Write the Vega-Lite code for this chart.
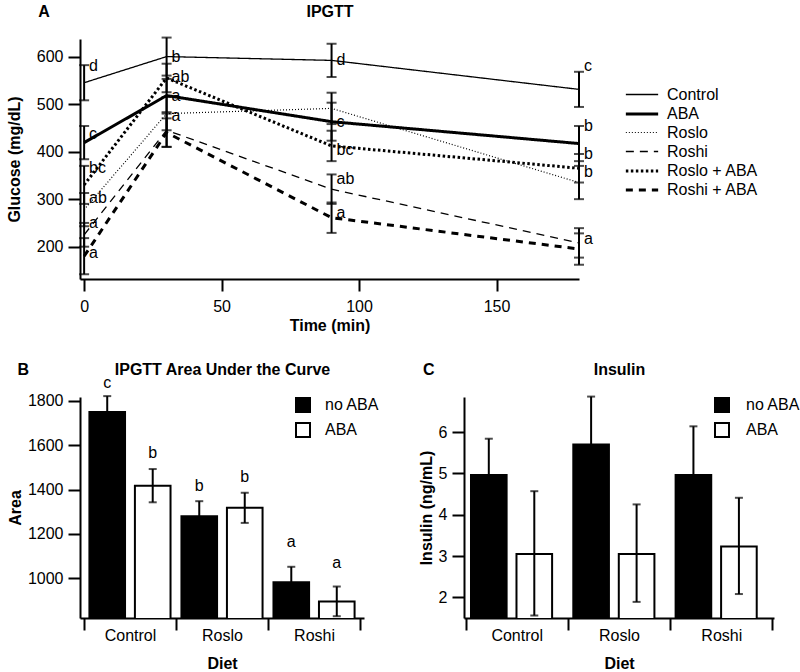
{
  "$schema": "https://vega.github.io/schema/vega-lite/v6.json",
  "background": "white",
  "padding": {"left": 6, "top": 3, "right": 0, "bottom": 0},
  "config": {
    "font": "Liberation Sans",
    "view": {"stroke": null},
    "axis": {"domainColor": "black", "domainWidth": 2, "tickColor": "black", "tickWidth": 2, "tickSize": 12, "labelColor": "black", "labelFontSize": 16, "labelFont": "Liberation Sans", "titleFont": "Liberation Sans", "titleFontSize": 16, "titleFontWeight": "bold", "titleColor": "black", "grid": false, "labelPadding": 5},
    "legend": {"labelFontSize": 16, "labelColor": "black", "labelFont": "Liberation Sans", "padding": 0},
    "title": {"font": "Liberation Sans", "fontSize": 16, "fontWeight": "bold", "color": "black"}
  },
  "datasets": {
    "glucose": [
      {"group": "Control", "time": 0, "glucose": 545, "se": 37},
      {"group": "Control", "time": 30, "glucose": 600, "se": 40},
      {"group": "Control", "time": 90, "glucose": 592, "se": 35},
      {"group": "Control", "time": 180, "glucose": 531, "se": 37},
      {"group": "ABA", "time": 0, "glucose": 419, "se": 35},
      {"group": "ABA", "time": 30, "glucose": 518, "se": 35},
      {"group": "ABA", "time": 90, "glucose": 463, "se": 40},
      {"group": "ABA", "time": 180, "glucose": 417, "se": 37},
      {"group": "Roslo", "time": 0, "glucose": 278, "se": 35},
      {"group": "Roslo", "time": 30, "glucose": 480, "se": 35},
      {"group": "Roslo", "time": 90, "glucose": 491, "se": 33},
      {"group": "Roslo", "time": 180, "glucose": 335, "se": 35},
      {"group": "Roshi", "time": 0, "glucose": 225, "se": 25},
      {"group": "Roshi", "time": 30, "glucose": 445, "se": 35},
      {"group": "Roshi", "time": 90, "glucose": 321, "se": 31},
      {"group": "Roshi", "time": 180, "glucose": 208, "se": 31},
      {"group": "Roslo + ABA", "time": 0, "glucose": 330, "se": 40},
      {"group": "Roslo + ABA", "time": 30, "glucose": 555, "se": 30},
      {"group": "Roslo + ABA", "time": 90, "glucose": 412, "se": 32},
      {"group": "Roslo + ABA", "time": 180, "glucose": 365, "se": 30},
      {"group": "Roshi + ABA", "time": 0, "glucose": 180, "se": 38},
      {"group": "Roshi + ABA", "time": 30, "glucose": 440, "se": 30},
      {"group": "Roshi + ABA", "time": 90, "glucose": 261, "se": 32},
      {"group": "Roshi + ABA", "time": 180, "glucose": 195, "se": 33}
    ],
    "glucoseLabels": [
      {"time": 0, "at": 580, "letter": "d"},
      {"time": 0, "at": 437, "letter": "c"},
      {"time": 0, "at": 366, "letter": "bc"},
      {"time": 0, "at": 303, "letter": "ab"},
      {"time": 0, "at": 250, "letter": "a"},
      {"time": 0, "at": 187, "letter": "a"},
      {"time": 30, "at": 600, "letter": "b"},
      {"time": 30, "at": 556, "letter": "ab"},
      {"time": 30, "at": 517, "letter": "a"},
      {"time": 30, "at": 474, "letter": "a"},
      {"time": 90, "at": 592, "letter": "d"},
      {"time": 90, "at": 463, "letter": "c"},
      {"time": 90, "at": 404, "letter": "bc"},
      {"time": 90, "at": 342, "letter": "ab"},
      {"time": 90, "at": 270, "letter": "a"},
      {"time": 180, "at": 580, "letter": "c"},
      {"time": 180, "at": 454, "letter": "b"},
      {"time": 180, "at": 395, "letter": "b"},
      {"time": 180, "at": 357, "letter": "b"},
      {"time": 180, "at": 216, "letter": "a"}
    ],
    "auc": [
      {"diet": "Control", "aba": "no ABA", "area": 1750, "lo": 1678, "hi": 1822, "letter": "c", "letterAt": 1881},
      {"diet": "Control", "aba": "ABA", "area": 1418, "lo": 1343, "hi": 1493, "letter": "b", "letterAt": 1565},
      {"diet": "Roslo", "aba": "no ABA", "area": 1280, "lo": 1212, "hi": 1348, "letter": "b", "letterAt": 1416},
      {"diet": "Roslo", "aba": "ABA", "area": 1318, "lo": 1250, "hi": 1386, "letter": "b", "letterAt": 1457},
      {"diet": "Roshi", "aba": "no ABA", "area": 982, "lo": 912, "hi": 1052, "letter": "a", "letterAt": 1165},
      {"diet": "Roshi", "aba": "ABA", "area": 896, "lo": 829, "hi": 963, "letter": "a", "letterAt": 1070}
    ],
    "insulin": [
      {"diet": "Control", "aba": "no ABA", "insulin": 4.96, "lo": 4.08, "hi": 5.84},
      {"diet": "Control", "aba": "ABA", "insulin": 3.05, "lo": 1.56, "hi": 4.57},
      {"diet": "Roslo", "aba": "no ABA", "insulin": 5.7, "lo": 4.54, "hi": 6.86},
      {"diet": "Roslo", "aba": "ABA", "insulin": 3.05, "lo": 1.89, "hi": 4.25},
      {"diet": "Roshi", "aba": "no ABA", "insulin": 4.96, "lo": 3.78, "hi": 6.14},
      {"diet": "Roshi", "aba": "ABA", "insulin": 3.23, "lo": 2.08, "hi": 4.41}
    ]
  },
  "spacing": 28,
  "resolve": {"scale": {"fill": "independent"}, "legend": {"fill": "independent", "strokeDash": "independent", "strokeWidth": "independent"}},
  "vconcat": [
    {
      "width": 499,
      "height": 240,
      "title": {"text": "A", "anchor": "start", "frame": "bounds", "offset": -17, "dx": 32},
      "resolve": {"axis": {"x": "independent"}},
      "layer": [
        {
          "data": {"name": "glucose"},
          "mark": {"type": "point", "opacity": 0},
          "encoding": {
            "x": {"field": "time", "type": "quantitative", "scale": {"domain": [-1.5, 180], "nice": false, "zero": false}, "axis": {"orient": "top", "title": "IPGTT", "domain": false, "ticks": false, "labels": false, "titlePadding": 20}},
            "y": {"field": "glucose", "type": "quantitative", "title": "Glucose (mg/dL)"}
          }
        },
        {
          "data": {"name": "glucose"},
          "mark": {"type": "line", "color": "black"},
          "encoding": {
            "x": {"field": "time", "type": "quantitative", "scale": {"domain": [-1.5, 180], "nice": false, "zero": false}, "axis": {"values": [0, 50, 100, 150], "title": "Time (min)", "labelPadding": 7, "titlePadding": 3}},
            "y": {"field": "glucose", "type": "quantitative", "scale": {"domain": [132, 637], "nice": false, "zero": false}, "title": "Glucose (mg/dL)", "axis": {"values": [200, 300, 400, 500, 600], "titlePadding": 14}},
            "strokeDash": {"field": "group", "type": "nominal", "scale": {"type": "ordinal", "domain": ["Control", "ABA", "Roslo", "Roshi", "Roslo + ABA", "Roshi + ABA"], "range": [[1, 0], [1, 0], [1, 2], [8, 6], [2.5, 2.5], [7, 6]]}, "legend": {"title": null, "orient": "none", "legendX": 551, "legendY": 45, "symbolType": "M-1.7,0H1.7", "symbolSize": 361, "symbolStrokeColor": "black", "labelOffset": 14, "rowPadding": 0}},
            "strokeWidth": {"field": "group", "type": "nominal", "scale": {"type": "ordinal", "domain": ["Control", "ABA", "Roslo", "Roshi", "Roslo + ABA", "Roshi + ABA"], "range": [1.3, 3, 1.2, 1.3, 3, 3]}, "legend": {"title": null, "orient": "none", "legendX": 551, "legendY": 45, "symbolType": "M-1.7,0H1.7", "symbolSize": 361, "symbolStrokeColor": "black", "labelOffset": 14, "rowPadding": 0}}
          }
        },
        {
          "data": {"name": "glucose"},
          "mark": {"type": "errorbar", "color": "black", "thickness": 2, "ticks": {"size": 10, "thickness": 2, "color": "black"}, "rule": {"strokeWidth": 2, "color": "black"}},
          "encoding": {
            "x": {"field": "time", "type": "quantitative", "axis": null},
            "y": {"field": "glucose", "type": "quantitative", "title": "Glucose (mg/dL)"},
            "yError": {"field": "se"}
          }
        },
        {
          "data": {"name": "glucoseLabels"},
          "mark": {"type": "text", "align": "left", "baseline": "middle", "dx": 5, "fontSize": 16, "color": "black"},
          "encoding": {
            "x": {"field": "time", "type": "quantitative", "axis": null},
            "y": {"field": "at", "type": "quantitative", "title": "Glucose (mg/dL)"},
            "text": {"field": "letter"}
          }
        }
      ]
    },
    {
      "spacing": 38,
      "resolve": {"scale": {"fill": "independent"}, "legend": {"fill": "independent"}},
      "hconcat": [
        {
          "width": 284,
          "height": 221,
          "title": {"text": "B", "anchor": "start", "frame": "bounds", "offset": -17, "dx": 10},
          "data": {"name": "auc"},
          "resolve": {"axis": {"x": "independent"}},
          "layer": [
            {
              "mark": {"type": "point", "opacity": 0},
              "encoding": {
                "x": {"field": "diet", "type": "nominal", "sort": ["Control", "Roslo", "Roshi"], "axis": {"orient": "top", "title": "IPGTT Area Under the Curve", "domain": false, "ticks": false, "labels": false, "titlePadding": 20}},
                "y": {"field": "area", "type": "quantitative", "title": "Area"}
              }
            },
            {
              "mark": {"type": "bar", "stroke": "black", "strokeWidth": 2, "clip": true},
              "encoding": {
                "x": {"field": "diet", "type": "nominal", "sort": ["Control", "Roslo", "Roshi"], "scale": {"paddingInner": 0, "paddingOuter": 0.043}, "axis": {"title": "Diet", "labelAngle": 0, "tickBand": "extent", "labelPadding": -3, "titlePadding": 12}},
                "xOffset": {"field": "aba", "type": "nominal", "sort": ["no ABA", "ABA"], "scale": {"paddingInner": 0.217, "paddingOuter": 0.12}},
                "y": {"field": "area", "type": "quantitative", "scale": {"domain": [821, 1818], "nice": false, "zero": false}, "title": "Area", "axis": {"values": [1000, 1200, 1400, 1600, 1800], "format": "d"}},
                "fill": {"field": "aba", "type": "nominal", "scale": {"domain": ["no ABA", "ABA"], "range": ["black", "white"]}, "legend": {"title": null, "orient": "none", "legendX": 215, "legendY": 0, "symbolType": "square", "symbolSize": 196, "symbolStrokeColor": "black", "symbolStrokeWidth": 2, "labelOffset": 14, "rowPadding": 3}}
              }
            },
            {
              "mark": {"type": "rule", "color": "black", "strokeWidth": 2},
              "encoding": {
                "x": {"field": "diet", "type": "nominal", "sort": ["Control", "Roslo", "Roshi"], "axis": null},
                "xOffset": {"field": "aba", "type": "nominal", "sort": ["no ABA", "ABA"]},
                "y": {"field": "lo", "type": "quantitative", "title": "Area"},
                "y2": {"field": "hi"}
              }
            },
            {
              "mark": {"type": "tick", "orient": "horizontal", "color": "black", "size": 8, "thickness": 2},
              "encoding": {
                "x": {"field": "diet", "type": "nominal", "sort": ["Control", "Roslo", "Roshi"], "axis": null},
                "xOffset": {"field": "aba", "type": "nominal", "sort": ["no ABA", "ABA"]},
                "y": {"field": "hi", "type": "quantitative", "title": "Area"}
              }
            },
            {
              "mark": {"type": "tick", "orient": "horizontal", "color": "black", "size": 8, "thickness": 2},
              "encoding": {
                "x": {"field": "diet", "type": "nominal", "sort": ["Control", "Roslo", "Roshi"], "axis": null},
                "xOffset": {"field": "aba", "type": "nominal", "sort": ["no ABA", "ABA"]},
                "y": {"field": "lo", "type": "quantitative", "title": "Area"}
              }
            },
            {
              "mark": {"type": "text", "baseline": "middle", "fontSize": 16, "color": "black"},
              "encoding": {
                "x": {"field": "diet", "type": "nominal", "sort": ["Control", "Roslo", "Roshi"], "axis": null},
                "xOffset": {"field": "aba", "type": "nominal", "sort": ["no ABA", "ABA"]},
                "y": {"field": "letterAt", "type": "quantitative", "title": "Area"},
                "text": {"field": "letter"}
              }
            }
          ]
        },
        {
          "width": 310,
          "height": 221,
          "title": {"text": "C", "anchor": "start", "frame": "bounds", "offset": -17, "dx": 5},
          "data": {"name": "insulin"},
          "resolve": {"axis": {"x": "independent"}},
          "layer": [
            {
              "mark": {"type": "point", "opacity": 0},
              "encoding": {
                "x": {"field": "diet", "type": "nominal", "sort": ["Control", "Roslo", "Roshi"], "axis": {"orient": "top", "title": "Insulin", "domain": false, "ticks": false, "labels": false, "titlePadding": 20}},
                "y": {"field": "insulin", "type": "quantitative", "title": "Insulin (ng/mL)"}
              }
            },
            {
              "mark": {"type": "bar", "stroke": "black", "strokeWidth": 2, "clip": true},
              "encoding": {
                "x": {"field": "diet", "type": "nominal", "sort": ["Control", "Roslo", "Roshi"], "scale": {"paddingInner": 0, "paddingOuter": 0.015}, "axis": {"title": "Diet", "labelAngle": 0, "tickBand": "extent", "labelPadding": -3, "titlePadding": 12}},
                "xOffset": {"field": "aba", "type": "nominal", "sort": ["no ABA", "ABA"], "scale": {"paddingInner": 0.196, "paddingOuter": 0.1}},
                "y": {"field": "insulin", "type": "quantitative", "scale": {"domain": [1.5, 6.85], "nice": false, "zero": false}, "title": "Insulin (ng/mL)", "axis": {"values": [2, 3, 4, 5, 6]}},
                "fill": {"field": "aba", "type": "nominal", "scale": {"domain": ["no ABA", "ABA"], "range": ["black", "white"]}, "legend": {"title": null, "orient": "none", "legendX": 250, "legendY": 0, "symbolType": "square", "symbolSize": 196, "symbolStrokeColor": "black", "symbolStrokeWidth": 2, "labelOffset": 16, "rowPadding": 3}}
              }
            },
            {
              "mark": {"type": "rule", "color": "black", "strokeWidth": 2},
              "encoding": {
                "x": {"field": "diet", "type": "nominal", "sort": ["Control", "Roslo", "Roshi"], "axis": null},
                "xOffset": {"field": "aba", "type": "nominal", "sort": ["no ABA", "ABA"]},
                "y": {"field": "lo", "type": "quantitative", "title": "Insulin (ng/mL)"},
                "y2": {"field": "hi"}
              }
            },
            {
              "mark": {"type": "tick", "orient": "horizontal", "color": "black", "size": 8, "thickness": 2},
              "encoding": {
                "x": {"field": "diet", "type": "nominal", "sort": ["Control", "Roslo", "Roshi"], "axis": null},
                "xOffset": {"field": "aba", "type": "nominal", "sort": ["no ABA", "ABA"]},
                "y": {"field": "hi", "type": "quantitative", "title": "Insulin (ng/mL)"}
              }
            },
            {
              "mark": {"type": "tick", "orient": "horizontal", "color": "black", "size": 8, "thickness": 2},
              "encoding": {
                "x": {"field": "diet", "type": "nominal", "sort": ["Control", "Roslo", "Roshi"], "axis": null},
                "xOffset": {"field": "aba", "type": "nominal", "sort": ["no ABA", "ABA"]},
                "y": {"field": "lo", "type": "quantitative", "title": "Insulin (ng/mL)"}
              }
            }
          ]
        }
      ]
    }
  ]
}
